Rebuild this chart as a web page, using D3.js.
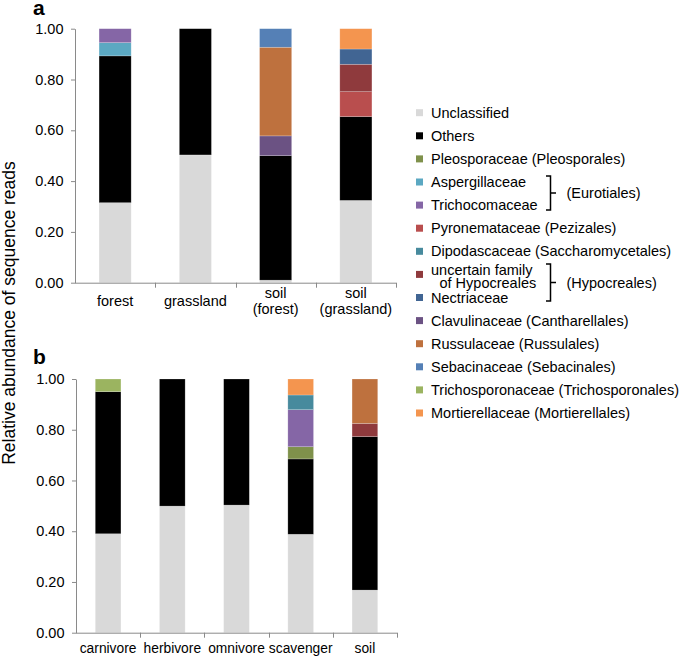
<!DOCTYPE html>
<html><head><meta charset="utf-8">
<script src="https://cdn.jsdelivr.net/npm/d3@7"></script>
<style>
html,body{margin:0;padding:0;background:#fff;}
svg{display:block;font-family:"Liberation Sans",Arial,sans-serif;}
</style></head>
<body><svg id="chart" width="685" height="657"></svg>
<script>
// ---------- data ----------
const families = ["Unclassified","Others","Pleosporaceae (Pleosporales)","Aspergillaceae","Trichocomaceae",
  "Pyronemataceae (Pezizales)","Dipodascaceae (Saccharomycetales)","uncertain family of Hypocreales","Nectriaceae",
  "Clavulinaceae (Cantharellales)","Russulaceae (Russulales)","Sebacinaceae (Sebacinales)",
  "Trichosporonaceae (Trichosporonales)","Mortierellaceae (Mortierellales)"];
const familyColors = ["#d9d9d9","#000000","#7f914b","#5ba8c2","#8566a6","#b94e4e","#478a9d","#8f3a3d",
  "#416593","#6b5283","#be713e","#5580b6","#9bb460","#f4954f"];

const categoriesA = ["forest","grassland","soil\n(forest)","soil\n(grassland)"];
//                 Uncl   Oth   Pleo  Asp   Trico Pyro  Dipo  Unc   Nect  Clav  Russ  Seba  Tspo  Mort
const forestA     = [0.315,0.578,0,    0.052,0.055,0,    0,    0,    0,    0,    0,    0,    0,    0];
const grasslandA  = [0.503,0.497,0,    0,    0,    0,    0,    0,    0,    0,    0,    0,    0,    0];
const soilForestA = [0.010,0.490,0,    0,    0,    0,    0,    0,    0,    0.078,0.349,0.073,0,    0];
const soilGrassA  = [0.324,0.330,0,    0,    0,    0.098,0,    0.108,0.060,0,    0,    0,    0,    0.080];
const valuesA = [forestA, grasslandA, soilForestA, soilGrassA];

const categoriesB = ["carnivore","herbivore","omnivore","scavenger","soil"];
const carnivoreB  = [0.390,0.560,0,    0,    0,    0,    0,    0,    0,    0,    0,    0,    0.050,0];
const herbivoreB  = [0.499,0.501,0,    0,    0,    0,    0,    0,    0,    0,    0,    0,    0,    0];
const omnivoreB   = [0.503,0.497,0,    0,    0,    0,    0,    0,    0,    0,    0,    0,    0,    0];
const scavengerB  = [0.388,0.297,0.048,0,    0.146,0,    0.058,0,    0,    0,    0,    0,    0,    0.063];
const soilB       = [0.168,0.605,0,    0,    0,    0,    0,    0.052,0,    0,    0.175,0,    0,    0];
const valuesB = [carnivoreB, herbivoreB, omnivoreB, scavengerB, soilB];

const yTicks = [0,0.2,0.4,0.6,0.8,1.0];

// ---------- drawing ----------
const svg = d3.select("#chart");
const FONT = 14.5;
const axisCol = "#8a8a8a";

function panel(cats, vals, left, right, top, bottom, letter, letterY, labelBase, catFont) {
  const g = svg.append("g");
  const x = d3.scaleBand().domain(cats).range([left, right]).paddingInner(0.6).paddingOuter(0.3);
  const y = d3.scaleLinear().domain([0,1]).range([bottom, top]);
  const rows = cats.map((c,i)=>{ const o={cat:c}; families.forEach((f,j)=>o[f]=vals[i][j]); return o; });
  const stack = d3.stack().keys(families)(rows);

  g.selectAll("g.series").data(stack).join("g")
    .attr("fill",(d,i)=>familyColors[i])
    .selectAll("rect").data(d=>d.filter(p=>p[1]-p[0]>0)).join("rect")
    .attr("x",d=>x(d.data.cat)).attr("width",x.bandwidth())
    .attr("y",d=>y(d[1])).attr("height",d=>y(d[0])-y(d[1]))
    .attr("stroke","#ffffff").attr("stroke-opacity",0.35).attr("stroke-width",0.6);

  // y axis
  const ya = g.append("g").attr("transform",`translate(${left},0)`)
    .call(d3.axisLeft(y).tickValues(yTicks).tickFormat(d3.format(".2f")).tickSize(4).tickSizeOuter(0).tickPadding(7.5));
  ya.select(".domain").attr("stroke",axisCol);
  ya.selectAll(".tick line").attr("stroke",axisCol);
  ya.selectAll(".tick text").attr("font-size",FONT).attr("fill","#000").attr("font-family","Liberation Sans, Arial, sans-serif");

  // x axis with ticks at category boundaries
  const step = x.step();
  g.append("line").attr("x1",left).attr("x2",right).attr("y1",bottom+0.5).attr("y2",bottom+0.5)
    .attr("stroke",axisCol).attr("stroke-width",1);
  const bounds = cats.map(c=>x(c)+x.bandwidth()+(step-x.bandwidth())/2);
  g.selectAll("line.xt").data(bounds).join("line").attr("class","xt")
    .attr("x1",d=>Math.round(d)+0.5).attr("x2",d=>Math.round(d)+0.5)
    .attr("y1",bottom).attr("y2",bottom+5).attr("stroke",axisCol);

  // category labels
  cats.forEach(c=>{
    const lines = c.split("\n");
    const cx = x(c)+x.bandwidth()/2;
    const t = g.append("text").attr("text-anchor","middle").attr("font-size",catFont).attr("fill","#000");
    lines.forEach((ln,k)=>{
      const base = labelBase - (lines.length-1)*8 + k*16;
      t.append("tspan").attr("x",cx).attr("y",base).text(ln);
    });
  });

  svg.append("text").attr("x",33).attr("y",letterY).attr("font-size",21).attr("font-weight","bold").text(letter);
}

panel(categoriesA, valuesA, 75, 396, 28.7, 282.7, "a", 15, 306, 14.5);
panel(categoriesB, valuesB, 76, 397, 379, 632.7, "b", 364, 653, 13.8);

// y title
svg.append("text").attr("transform","translate(15,313) rotate(-90)")
  .attr("text-anchor","middle").attr("font-size",17.5).attr("fill","#000")
  .text("Relative abundance of sequence reads");

// legend
const leg = svg.append("g");
const legY = i => 112.7 + i*23.1;
families.forEach((f,i)=>{
  const cy = legY(i);
  leg.append("rect").attr("x",416).attr("y",cy-3.5).attr("width",7).attr("height",7).attr("fill",familyColors[i]);
  if (f==="uncertain family of Hypocreales") {
    const t = leg.append("text").attr("font-size",FONT);
    t.append("tspan").attr("x",431).attr("y",cy-4).attr("dy","0.35em").text("uncertain family");
    t.append("tspan").attr("x",439.5).attr("y",cy+8.6).attr("dy","0.35em").text("of Hypocreales");
  } else {
    leg.append("text").attr("x",431).attr("y",cy).attr("dy","0.35em").attr("font-size",FONT).text(f);
  }
});
// brackets
function bracket(y1,y2,ym,xv,label){
  leg.append("path").attr("d",`M${xv-4.5},${y1} H${xv} V${y2} H${xv-4.5} M${xv},${ym} H${xv+5.5}`)
    .attr("fill","none").attr("stroke","#000").attr("stroke-width",1.5);
  leg.append("text").attr("x",566.5).attr("y",ym).attr("dy","0.35em").attr("font-size",FONT).text(label);
}
bracket(176,210,193,550.5,"(Eurotiales)");
bracket(264,301,282.5,550.5,"(Hypocreales)");
</script></body></html>
